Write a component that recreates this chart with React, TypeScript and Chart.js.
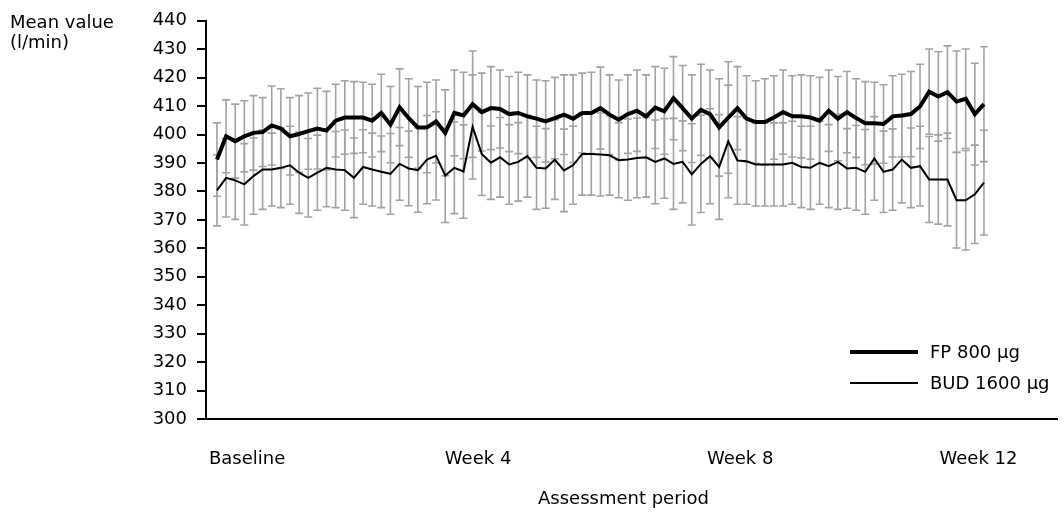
import React, { useEffect, useRef } from "react";
import { Chart, registerables } from "chart.js";

Chart.register(...registerables);

const fpMean = [
  391.2, 399.4, 397.7, 399.4, 400.6, 400.9, 403.2, 402.1, 399.4, 400.2,
  401.2, 402.1, 401.4, 404.9, 406.0, 406.0, 406.0, 404.9, 407.6, 403.5,
  409.6, 405.8, 402.5, 402.5, 404.6, 400.6, 407.6, 406.7, 410.7, 407.9,
  409.3, 409.0, 407.2, 407.6, 406.4, 405.6, 404.6, 405.8, 407.0, 405.6,
  407.6, 407.6, 409.3, 407.0, 405.2, 407.2, 408.4, 406.4, 409.5, 408.2,
  412.8, 409.3, 405.6, 408.7, 407.2, 402.5, 406.0, 409.3, 405.6, 404.4,
  404.4, 406.0, 407.9, 406.4, 406.4, 406.0, 404.9, 408.4, 405.6, 407.9,
  405.8, 404.0, 404.0, 403.7, 406.4, 406.7, 407.2, 409.9, 415.1, 413.4,
  414.9, 411.6, 412.6, 407.2, 410.7,
];

const fpErr = [
  12.9, 12.8, 13.0, 12.5, 13.1, 12.1, 13.9, 14.0, 13.6, 13.5,
  13.4, 14.2, 13.8, 12.8, 12.9, 12.6, 12.4, 12.8, 13.6, 13.4,
  13.5, 13.8, 14.4, 15.9, 14.6, 15.1, 15.1, 15.2, 18.7, 13.7,
  14.6, 13.7, 13.2, 14.3, 14.6, 13.6, 14.3, 14.3, 14.0, 15.4,
  14.0, 14.3, 14.4, 14.0, 14.0, 13.8, 14.3, 14.6, 14.4, 15.1,
  14.6, 15.0, 15.4, 16.0, 15.5, 17.1, 19.6, 14.6, 15.1, 14.5,
  15.2, 14.7, 14.8, 14.3, 14.6, 14.7, 15.2, 14.3, 14.8, 14.3,
  13.8, 14.6, 14.4, 13.8, 14.3, 14.5, 15.0, 14.8, 15.0, 15.7,
  16.3, 17.8, 17.5, 17.9, 20.2,
];

const budMean = [
  380.4, 384.8, 383.9, 382.5, 385.4, 387.7, 387.7, 388.3, 389.2, 386.6,
  384.8, 386.6, 388.3, 387.7, 387.5, 384.8, 388.6, 387.7, 386.9, 386.2,
  389.7, 388.1, 387.5, 391.2, 392.5, 385.6, 388.3, 387.0, 402.7, 393.2,
  390.1, 392.0, 389.5, 390.4, 392.4, 388.3, 388.1, 391.2, 387.4, 389.2,
  393.2, 393.2, 393.0, 392.7, 391.0, 391.2, 391.8, 392.0, 390.4, 391.6,
  389.7, 390.4, 386.0, 389.7, 392.4, 388.6, 397.6, 390.9, 390.6, 389.5,
  389.5, 389.5, 389.5, 390.1, 388.6, 388.3, 390.1, 388.9, 390.4, 388.1,
  388.3, 386.9, 391.6, 386.9, 387.7, 391.2, 388.3, 388.9, 384.2, 384.2,
  384.2, 376.9, 376.9, 379.0, 383.1,
];

const budErr = [
  12.5, 13.8, 13.7, 14.3, 13.4, 14.0, 12.8, 14.0, 13.7, 14.3,
  13.8, 13.2, 13.7, 13.4, 14.1, 14.0, 13.1, 12.8, 12.6, 14.2,
  12.8, 13.1, 14.8, 15.5, 15.5, 16.5, 16.1, 16.4, 18.3, 14.6,
  12.9, 14.0, 14.0, 13.8, 14.4, 14.6, 14.0, 14.0, 14.5, 13.7,
  14.5, 14.5, 14.6, 14.0, 13.2, 14.3, 14.0, 14.0, 14.7, 14.0,
  16.0, 14.4, 17.8, 17.1, 16.7, 18.4, 19.8, 15.4, 15.1, 14.6,
  14.6, 14.6, 14.6, 14.6, 14.3, 14.6, 14.6, 14.6, 16.7, 14.0,
  14.9, 14.9, 14.7, 14.3, 14.3, 15.2, 14.0, 14.0, 15.1, 15.7,
  16.3, 16.8, 17.5, 17.3, 18.4,
];

const seriesLabels = ["FP 800 \u03bcg", "BUD 1600 \u03bcg"];
const xTickValues = [3.3, 28.6, 57.3, 83.4];
const xTickLabels = ["Baseline", "Week 4", "Week 8", "Week 12"];
const yMin = 300;
const yMax = 440;
const yStep = 10;
const yTitle = ["Mean value", "(l/min)"];
const xTitle = "Assessment period";

const FONT = "'DejaVu Sans', sans-serif";
const ERR_COLOR = "#a2a2a2";

const errorBarPlugin = {
  id: "errorBars",
  beforeDatasetsDraw(chart: any) {
    const { ctx, scales } = chart;
    const xs = scales.x;
    const ys = scales.y;
    ctx.save();
    ctx.strokeStyle = ERR_COLOR;
    ctx.lineWidth = 1.6;
    chart.data.datasets.forEach((ds: any) => {
      const errs: number[] = ds.errors || [];
      ds.data.forEach((p: any, i: number) => {
        const e = errs[i];
        if (e == null) return;
        const px = xs.getPixelForValue(p.x);
        const top = ys.getPixelForValue(p.y + e);
        const bot = ys.getPixelForValue(p.y - e);
        ctx.beginPath();
        ctx.moveTo(px, top);
        ctx.lineTo(px, bot);
        ctx.moveTo(px - 4, top);
        ctx.lineTo(px + 4, top);
        ctx.moveTo(px - 4, bot);
        ctx.lineTo(px + 4, bot);
        ctx.stroke();
      });
    });
    ctx.restore();
  },
  afterDraw(chart: any) {
    const { ctx, chartArea } = chart;
    ctx.save();
    ctx.fillStyle = "#000";
    ctx.font = `18px ${FONT}`;
    ctx.textAlign = "left";
    ctx.textBaseline = "alphabetic";
    ctx.fillText(yTitle[0], 10, 28);
    ctx.fillText(yTitle[1], 10, 48);
    ctx.textAlign = "center";
    ctx.fillText(xTitle, (chartArea.left + chartArea.right) / 2 - 8, 504);

    // legend
    const lx0 = 850;
    const lx1 = 918;
    const rows = [352, 383];
    chart.data.datasets.forEach((ds: any, i: number) => {
      const y = rows[i];
      ctx.strokeStyle = ds.borderColor;
      ctx.lineWidth = ds.borderWidth;
      ctx.beginPath();
      ctx.moveTo(lx0, y);
      ctx.lineTo(lx1, y);
      ctx.stroke();
      ctx.textAlign = "left";
      ctx.textBaseline = "middle";
      ctx.fillText(ds.label, 930, y + 1);
    });
    ctx.restore();
  },
};

export default function App() {
  const ref = useRef<HTMLCanvasElement | null>(null);

  useEffect(() => {
    if (!ref.current) return;
    Chart.defaults.font.family = FONT;
    const chart = new Chart(ref.current, {
      type: "line",
      data: {
        datasets: [
          {
            label: seriesLabels[0],
            data: fpMean.map((y, i) => ({ x: i, y })),
            errors: fpErr,
            borderColor: "#000",
            borderWidth: 4,
            pointRadius: 0,
            tension: 0,
            fill: false,
          } as any,
          {
            label: seriesLabels[1],
            data: budMean.map((y, i) => ({ x: i, y })),
            errors: budErr,
            borderColor: "#000",
            borderWidth: 2,
            pointRadius: 0,
            tension: 0,
            fill: false,
          } as any,
        ],
      },
      options: {
        animation: false,
        responsive: false,
        layout: { padding: { left: 0, right: 7, top: 19, bottom: 0 } },
        plugins: {
          legend: { display: false },
          tooltip: { enabled: false },
          title: { display: false },
        },
        scales: {
          x: {
            type: "linear",
            min: -1.2,
            max: 92,
            afterFit: (s: any) => {
              s.height = 96;
            },
            afterBuildTicks: (s: any) => {
              s.ticks = xTickValues.map((v) => ({ value: v }));
            },
            grid: { display: false, drawTicks: false },
            border: { display: true, color: "#000", width: 2 },
            ticks: {
              autoSkip: false,
              maxRotation: 0,
              color: "#000",
              padding: 30,
              font: { size: 18, family: FONT },
              callback: (v: any) => {
                const k = xTickValues.indexOf(Number(v));
                return k >= 0 ? xTickLabels[k] : "";
              },
            },
          },
          y: {
            type: "linear",
            min: yMin,
            max: yMax,
            afterFit: (s: any) => {
              s.width = 206;
            },
            grid: {
              display: true,
              drawOnChartArea: false,
              drawTicks: true,
              tickLength: 9,
              color: "#000",
              lineWidth: 2,
            },
            border: { display: true, color: "#000", width: 2 },
            ticks: {
              stepSize: yStep,
              color: "#000",
              padding: 10,
              font: { size: 18, family: FONT },
            },
          },
        },
      } as any,
      plugins: [errorBarPlugin],
    });
    return () => chart.destroy();
  }, []);

  return (
    <div style={{ position: "absolute", left: 0, top: 0, width: 1064, height: 515, background: "#fff" }}>
      <canvas ref={ref} width={1064} height={515} />
    </div>
  );
}
